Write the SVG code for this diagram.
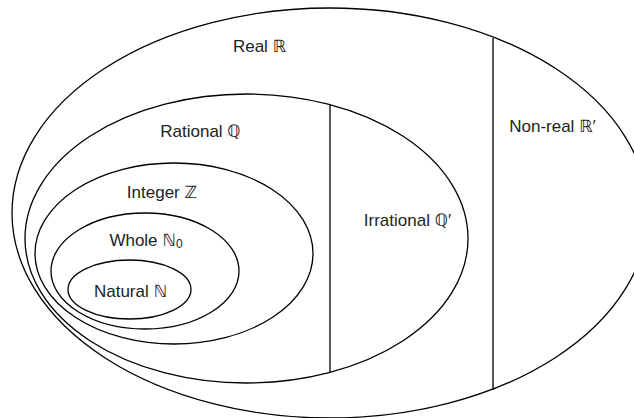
<svg xmlns="http://www.w3.org/2000/svg" width="634" height="418" viewBox="0 0 634 418">
<style>
.set{fill:none;stroke:#000;stroke-width:1.3}
.div{stroke:#000;stroke-width:1.3}
.lbl{font-family:"Liberation Sans","DejaVu Sans",sans-serif;font-size:17px;fill:#222;text-anchor:middle}
</style>
<rect width="634" height="418" fill="#fff"/>
<g id="real">
<ellipse class="set" cx="330" cy="213" rx="318" ry="205"/>
<text class="lbl" x="259.5" y="51.5">Real ℝ</text>
</g>
<g id="nonreal">
<text class="lbl" x="552.5" y="132">Non-real ℝ′</text>
</g>
<g id="rational">
<ellipse class="set" cx="246.5" cy="238.5" rx="221.5" ry="144.5"/>
<text class="lbl" x="200.5" y="136.5">Rational ℚ</text>
</g>
<g id="irrational">
<text class="lbl" x="407.5" y="226">Irrational ℚ′</text>
</g>
<g id="integer">
<ellipse class="set" cx="174" cy="253.5" rx="139" ry="90.5"/>
<text class="lbl" x="162" y="197.5">Integer ℤ</text>
</g>
<g id="whole">
<ellipse class="set" cx="145" cy="271" rx="94" ry="58"/>
<text class="lbl" x="146" y="246">Whole ℕ<tspan font-size="12" dy="2">0</tspan></text>
</g>
<g id="natural">
<ellipse class="set" cx="129.5" cy="289.5" rx="61.5" ry="29.5"/>
<text class="lbl" x="130.5" y="296.5">Natural ℕ</text>
</g>
<g id="connectors">
<line class="div" x1="493" y1="38" x2="493" y2="390"/>
<line class="div" x1="330" y1="104.7" x2="330" y2="372.3"/>
</g>
</svg>
